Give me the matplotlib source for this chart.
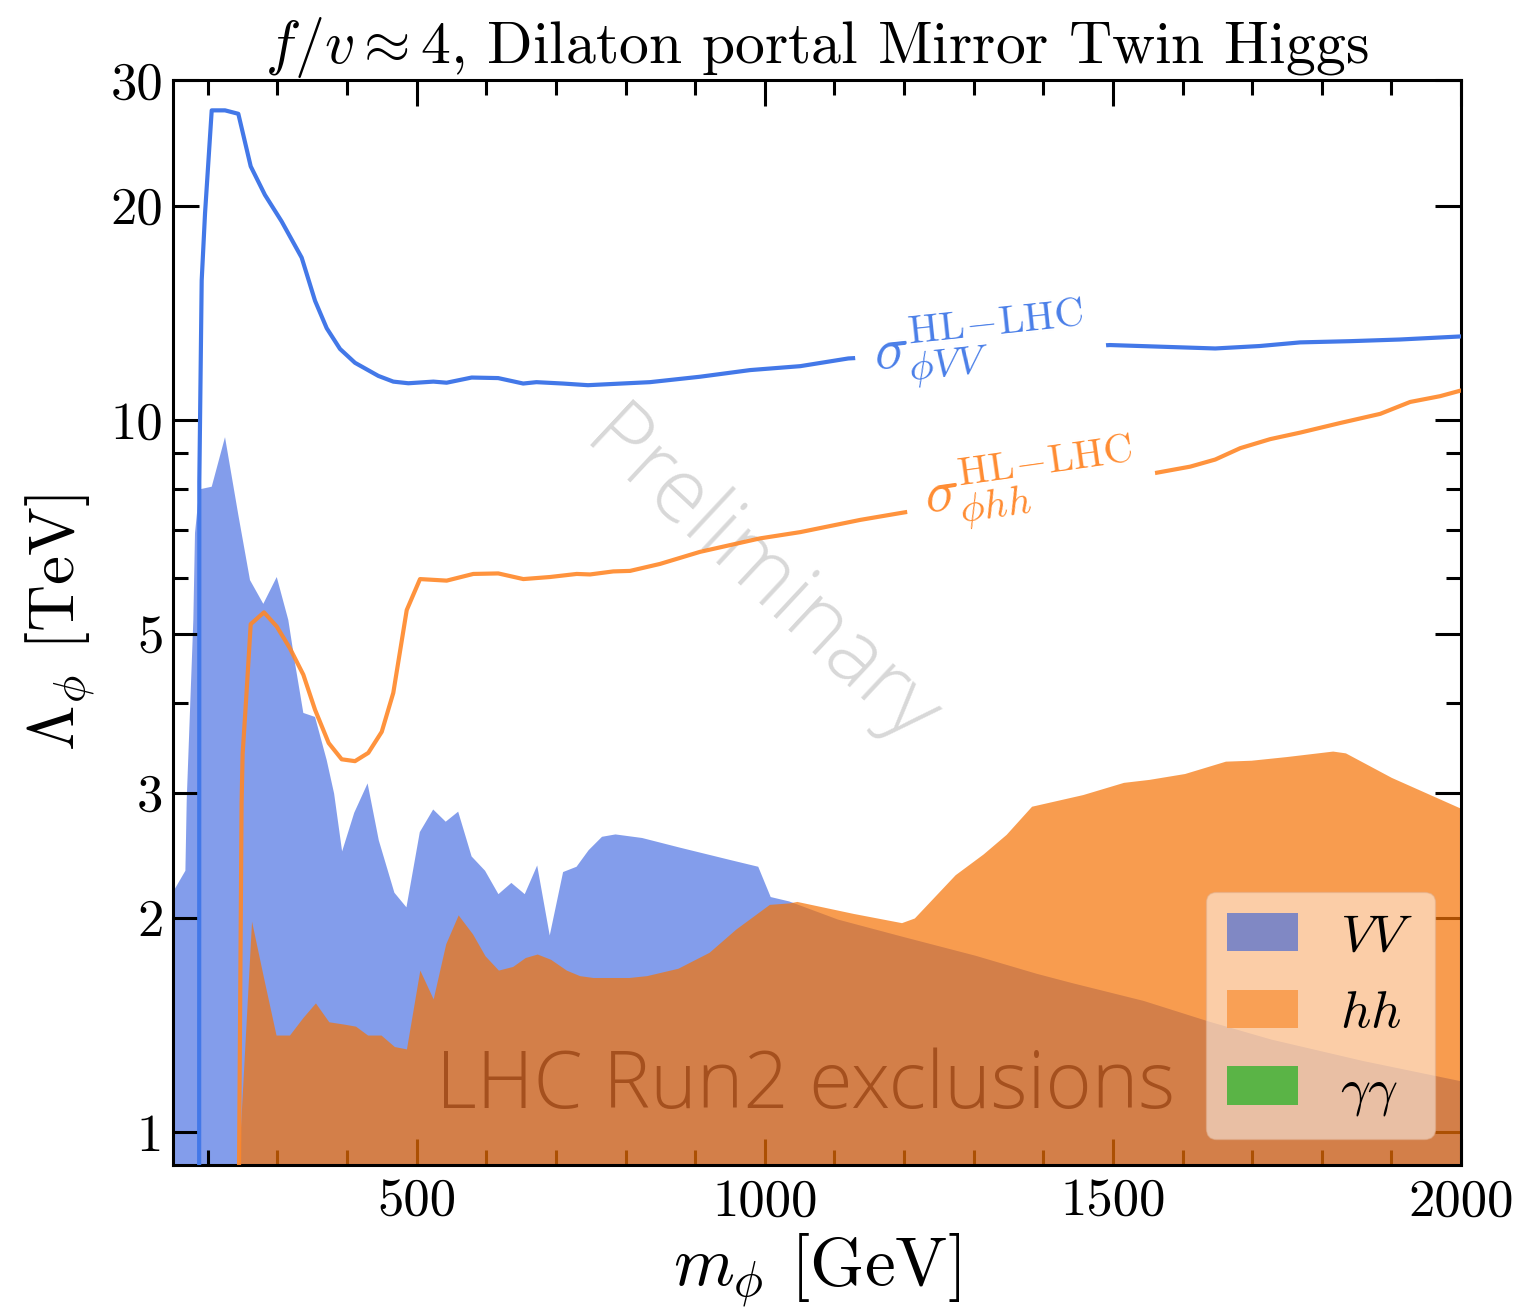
import matplotlib
matplotlib.use('Agg')
import matplotlib.pyplot as plt
from matplotlib.patches import Patch
from matplotlib.ticker import FixedLocator, FixedFormatter, NullFormatter

plt.rcParams['font.family'] = 'serif'
plt.rcParams['font.serif'] = ['cmr10']
plt.rcParams['mathtext.fontset'] = 'cm'
plt.rcParams['axes.unicode_minus'] = False

# HL-LHC reach, phi -> VV
m_vv = [187.5, 187.8, 191.2, 196, 205.6, 224.7, 243.8, 261.6, 282, 306, 334.8, 354, 370.8,
        389.9, 411.4, 445, 466.4, 488, 524, 543, 579, 617, 653, 672, 710, 746, 778, 835,
        907, 979, 1051, 1120, 1250, 1400, 1496, 1582, 1647, 1711, 1769, 1840, 1912, 2000]
lam_vv = [0.5, 8.2, 15.7, 19.5, 27.2, 27.2, 26.9, 22.7, 20.7, 19.0, 16.9, 14.7, 13.45,
          12.58, 12.03, 11.53, 11.32, 11.26, 11.32, 11.28, 11.47, 11.45, 11.25, 11.3, 11.25,
          11.19, 11.23, 11.3, 11.5, 11.75, 11.9, 12.2, 12.4, 12.6, 12.74, 12.66, 12.6, 12.7,
          12.85, 12.9, 12.97, 13.1]

# HL-LHC reach, phi -> hh
m_hh = [243, 248.5, 250, 255, 261.6, 280.7, 299, 318, 337.2, 354, 373.6, 392.3, 411.4,
        430.5, 449.8, 466.4, 485.7, 504.8, 543.1, 581.3, 617.2, 653.2, 691.5, 729.9, 749,
        782.4, 806.4, 849.5, 907, 993, 1051, 1137, 1194, 1300, 1450, 1568, 1611, 1647,
        1683, 1726, 1769, 1826, 1884, 1927, 1970, 2000]
lam_hh = [0.5, 2.9, 3.4, 4.05, 5.17, 5.37, 5.13, 4.78, 4.39, 3.92, 3.52, 3.34, 3.32,
          3.41, 3.65, 4.14, 5.41, 5.98, 5.95, 6.08, 6.09, 5.98, 6.02, 6.08, 6.07,
          6.13, 6.14, 6.28, 6.53, 6.82, 6.96, 7.24, 7.4, 7.7, 8.05, 8.45, 8.6, 8.8,
          9.13, 9.4, 9.6, 9.9, 10.2, 10.6, 10.8, 11.0]

# Run2 exclusions, VV channel
m_ex_vv = [150.6, 167.8, 169.7, 179.2, 181.6, 187.8, 205.6, 224.7, 243.8, 260.6, 279.7,
           299, 315.6, 325.2, 337.2, 354, 370.8, 381.4, 392.9, 410.3, 429.5, 445.6, 468,
           485.3, 504.5, 523.7, 541.7, 559.6, 578.9, 598.2, 617.4, 636, 655.2, 673.1,
           691.1, 710.3, 729.6, 747, 766.2, 785.5, 823.8, 878.4, 952, 990.6, 1008.5,
           1035, 1105, 1200, 1303, 1390.6, 1442, 1544, 1639, 1727.8, 1859, 2000]
lam_ex_vv = [2.18, 2.33, 2.93, 5.24, 6.94, 7.99, 8.06, 9.46, 7.36, 5.96, 5.52,
             6.02, 5.24, 4.56, 3.88, 3.83, 3.33, 2.99, 2.48, 2.81, 3.09, 2.57, 2.17,
             2.07, 2.64, 2.84, 2.73, 2.82, 2.44, 2.33, 2.16, 2.24, 2.16, 2.37,
             1.89, 2.32, 2.36, 2.49, 2.60, 2.62, 2.59, 2.51, 2.41, 2.36, 2.14,
             2.11, 1.99, 1.88, 1.77, 1.67, 1.62, 1.53, 1.43, 1.35, 1.26, 1.18]

# Run2 exclusions, hh channel
m_ex_hh = [243, 244, 262.8, 280, 298, 317.3, 336.6, 354.6, 373.8, 394.2, 412.2, 429.5,
           448.8, 468, 485.3, 504.5, 523.7, 541.7, 559.6, 580.2, 598.2, 617.4, 637.9,
           655.9, 673.1, 692.4, 714.9, 734, 753.3, 804.7, 830.3, 875.2, 920, 958.5,
           1006.6, 1035.5, 1046, 1126.7, 1196.4, 1214.8, 1273.4, 1313.7, 1346.6, 1383.2,
           1456.6, 1515.2, 1551.8, 1603, 1661.7, 1698.4, 1749.6, 1815.7, 1834, 1900, 2000]
lam_ex_hh = [0.1, 0.9, 1.98, 1.65, 1.37, 1.37, 1.45, 1.52, 1.43, 1.42, 1.41, 1.37,
             1.37, 1.32, 1.31, 1.69, 1.54, 1.84, 2.02, 1.90, 1.77, 1.69, 1.71,
             1.76, 1.78, 1.75, 1.69, 1.66, 1.65, 1.65, 1.66, 1.70, 1.79, 1.93,
             2.09, 2.10, 2.11, 2.03, 1.97, 2.00, 2.30, 2.46, 2.62, 2.87,
             2.98, 3.10, 3.13, 3.19, 3.32, 3.33, 3.37, 3.43, 3.41, 3.15, 2.85]

yticks = [1, 2, 3, 5, 10, 20, 30]
yminor = [4, 6, 7, 8, 9]
xticks = [500, 1000, 1500, 2000]
xminor = [200, 300, 400, 600, 700, 800, 900, 1100, 1200, 1300, 1400, 1600, 1700, 1800, 1900]

fig = plt.figure(figsize=(15.18, 13.09), dpi=100)
ax = fig.add_axes([0.11397, 0.10997, 0.84848, 0.82888])

ax.fill_between(m_ex_vv, 0.1, lam_ex_vv, color='royalblue', alpha=0.65, lw=0, zorder=1)
ax.fill_between(m_ex_hh, 0.1, lam_ex_hh, color='#F67305', alpha=0.7, lw=0, zorder=2)

ax.plot(m_vv, lam_vv, color='#4378E8', lw=3, zorder=3)
ax.plot(m_hh, lam_hh, color='#FF8728', alpha=0.9, lw=3, zorder=3)

ax.text(1309, 12.74, r'$\sigma_{\phi VV}^{\mathrm{HL\!-\!LHC}}$', color='#4A7FE8', fontsize=42,
        rotation=6, ha='center', va='center', rotation_mode='anchor', zorder=4,
        bbox=dict(facecolor='white', edgecolor='none', pad=14))
ax.text(1381, 8.11, r'$\sigma_{\phi hh}^{\mathrm{HL\!-\!LHC}}$', color='#FF8C32', fontsize=42,
        rotation=8, ha='center', va='center', rotation_mode='anchor', zorder=4,
        bbox=dict(facecolor='white', edgecolor='none', pad=14))

ax.text(993, 5.96, 'Preliminary', family=['Open Sans', 'DejaVu Sans'], fontweight='light',
        fontsize=64, color='#D8D8D8', rotation=-43, ha='center', va='center',
        rotation_mode='anchor', zorder=2.5)
ax.text(1059, 1.083, 'LHC Run2 exclusions', family=['Open Sans', 'DejaVu Sans'],
        fontweight='light', fontsize=57, color='#A5501E', ha='center', va='baseline', zorder=4)

ax.set_yscale('log')
ax.set_xlim(150, 2000)
ax.set_ylim(0.9, 30)

ax.yaxis.set_major_locator(FixedLocator(yticks))
ax.yaxis.set_major_formatter(FixedFormatter([str(t) for t in yticks]))
ax.yaxis.set_minor_locator(FixedLocator(yminor))
ax.yaxis.set_minor_formatter(NullFormatter())
ax.xaxis.set_major_locator(FixedLocator(xticks))
ax.xaxis.set_minor_locator(FixedLocator(xminor))

ax.tick_params(which='both', direction='in', top=True, right=True, width=2.2, labelsize=38)
ax.tick_params(which='major', length=19)
ax.tick_params(which='minor', length=11)
ax.tick_params(axis='x', pad=10)
ax.tick_params(axis='y', pad=7)
for s in ax.spines.values():
    s.set_linewidth(2.2)

ax.set_xlabel(r'$m_\phi$ [GeV]', fontsize=50, labelpad=4)
ax.set_ylabel(r'$\Lambda_\phi$ [TeV]', fontsize=47, labelpad=10)
ax.set_title(r'$f/v \approx 4$, Dilaton portal Mirror Twin Higgs', fontsize=43, pad=10)

handles = [Patch(facecolor='#8088C4', edgecolor='none', label=r'$VV$'),
           Patch(facecolor='#F9A055', edgecolor='none', label=r'$hh$'),
           Patch(facecolor='#5AB446', edgecolor='none', label=r'$\gamma\gamma$')]
leg = ax.legend(handles=handles, loc='lower right', fontsize=38, framealpha=0.5,
                handlelength=1.35, handleheight=0.75, labelspacing=0.55,
                handletextpad=0.8, borderpad=0.4, borderaxespad=0.5)
leg.get_frame().set_edgecolor('#E0B090')
leg.set_zorder(5)

fig.savefig('out.png', dpi=100)
